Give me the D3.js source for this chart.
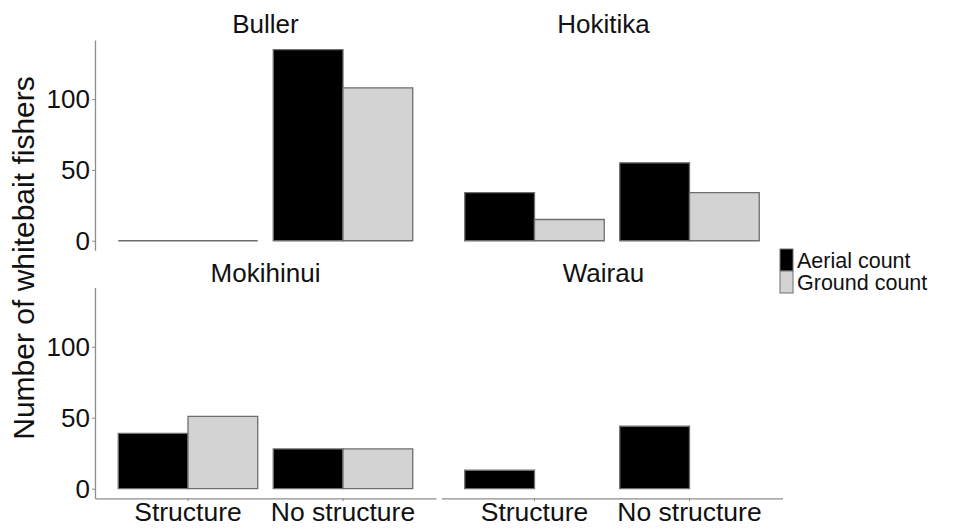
<!DOCTYPE html>
<html>
<head>
<meta charset="utf-8">
<script src="https://cdn.jsdelivr.net/npm/d3@7"></script>
<style>
  body { margin: 0; background: #fff; }
  svg { display: block; font-family: "Liberation Sans", Arial, sans-serif; }
</style>
</head>
<body>
<svg id="chart" width="966" height="528"></svg>
<script>
// data
const rivers = ["Buller", "Hokitika", "Mokihinui", "Wairau"];
const habitats = ["Structure", "No structure"];
const seriesNames = ["Aerial count", "Ground count"];
const aerialCounts = [[0, 135], [34, 55], [39, 28], [13, 44]];
const groundCounts = [[0, 108], [15, 34], [51, 28], [null, null]];
const yTicks = [0, 50, 100];

const colors = { "Aerial count": "#000000", "Ground count": "#d3d3d3" };
const axisColor = "#8c8c8c";

const svg = d3.select("#chart");

// panel layout (facet_wrap 2x2)
const colX = [95, 441.5];
const panelW = 341;
const rowY = [[40, 250.3], [287.5, 498.3]]; // top, bottom
const titleX = [265.5, 603.5];
const titleY = [33, 281.5];

const yMax = 135 * 1.05, yMin = -135 * 0.05;

rivers.forEach((river, i) => {
  const col = i % 2, row = Math.floor(i / 2);
  const left = colX[col], right = left + panelW;
  const [top, bottom] = rowY[row];

  const x = d3.scaleBand()
    .domain(habitats)
    .range([left, right])
    .paddingInner(0.1)
    .paddingOuter(0.15);

  const xs = d3.scaleBand()
    .domain(seriesNames)
    .range([0, x.bandwidth()]);

  const y = d3.scaleLinear()
    .domain([yMin, yMax])
    .range([bottom, top]);

  const g = svg.append("g");

  const bars = [];
  habitats.forEach((h, j) => {
    bars.push({ habitat: h, series: "Aerial count", value: aerialCounts[i][j] });
    bars.push({ habitat: h, series: "Ground count", value: groundCounts[i][j] });
  });

  // paths so that zero-height bars still show their outline
  g.selectAll("path")
    .data(bars.filter(d => d.value !== null))
    .join("path")
      .attr("d", d => {
        const x0 = x(d.habitat) + xs(d.series), w = xs.bandwidth();
        const y0 = y(0), y1 = y(d.value);
        return `M${x0},${y0}H${x0 + w}V${y1}H${x0}Z`;
      })
      .attr("fill", d => colors[d.series])
      .attr("stroke", "#6e6e6e")
      .attr("stroke-width", 1.3);

  // strip title
  svg.append("text")
    .attr("x", titleX[col])
    .attr("y", titleY[row])
    .attr("text-anchor", "middle")
    .attr("font-size", 26)
    .attr("fill", "#111")
    .text(river);

  // y axis on left column
  if (col === 0) {
    const ya = svg.append("g")
      .attr("transform", `translate(${left},0)`)
      .call(d3.axisLeft(y).tickValues(yTicks).tickSize(3).tickSizeOuter(0).tickPadding(2));
    ya.select(".domain").attr("stroke", axisColor).attr("stroke-width", 1.3);
    ya.selectAll(".tick line").attr("stroke", axisColor);
    ya.selectAll(".tick text").attr("font-size", 26).attr("fill", "#111")
      .attr("font-family", "Liberation Sans, Arial, sans-serif");
  }

  // x axis on bottom row
  if (row === 1) {
    const xa = svg.append("g")
      .attr("transform", `translate(0,${bottom})`)
      .call(d3.axisBottom(x).tickSize(3).tickSizeOuter(0).tickPadding(1));
    xa.select(".domain").attr("stroke", axisColor).attr("stroke-width", 1.3);
    xa.selectAll(".tick line").attr("stroke", axisColor);
    xa.selectAll(".tick text").attr("font-size", 26.5).attr("fill", "#111")
      .attr("font-family", "Liberation Sans, Arial, sans-serif");
  }
});

// y axis title
svg.append("text")
  .attr("transform", "translate(34,258) rotate(-90)")
  .attr("text-anchor", "middle")
  .attr("font-size", 30)
  .attr("fill", "#111")
  .text("Number of whitebait fishers");

// legend
const legend = svg.append("g").attr("transform", "translate(780,249)");
legend.selectAll("rect")
  .data(seriesNames)
  .join("rect")
    .attr("x", 0)
    .attr("y", (d, k) => k * 22)
    .attr("width", 13)
    .attr("height", 22)
    .attr("fill", d => colors[d])
    .attr("stroke", "#6e6e6e")
    .attr("stroke-width", 1);
legend.selectAll("text")
  .data(seriesNames)
  .join("text")
    .attr("x", 17)
    .attr("y", (d, k) => k * 22 + 19)
    .attr("font-size", 21.5)
    .attr("fill", "#111")
    .text(d => d);
</script>
</body>
</html>
